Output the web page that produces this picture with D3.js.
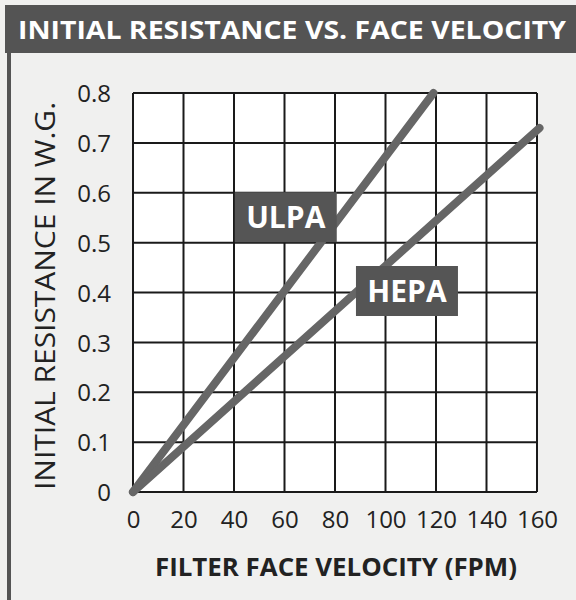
<!DOCTYPE html>
<html lang="en">
<head>
  <meta charset="UTF-8">
  <title>Initial Resistance vs. Face Velocity</title>
  <script src="https://cdn.jsdelivr.net/npm/d3@7.6.1/dist/d3.min.js"></script>
  <style>
    body { margin: 0; background: #fff; }
    svg { display: block; }
    text { font-family: "Open Sans", "Noto Sans", sans-serif; }
  </style>
</head>
<body>
  <div id="chart"></div>
  <script>
    const width = 576
    const height = 600
    const margin = { left: 133, right: 39, top: 93, bottom: 108 }

    // data
    const xTicks = [0, 20, 40, 60, 80, 100, 120, 140, 160]
    const yTicks = [0, 0.1, 0.2, 0.3, 0.4, 0.5, 0.6, 0.7, 0.8]
    const ulpa = [[0, 0], [119, 0.8]]
    const hepa = [[0, 0], [161, 0.73]]
    const labels = ['ULPA', 'HEPA']
    const labelPos = [[60.5, 0.551], [108.5, 0.403]]

    const x = d3.scaleLinear().domain([0, 160]).range([margin.left, width - margin.right])
    const y = d3.scaleLinear().domain([0, 0.8]).range([height - margin.bottom, margin.top])

    const svg = d3.select('#chart').append('svg')
      .attr('width', width)
      .attr('height', height)

    // background + frame
    svg.append('rect').attr('x', 0).attr('y', 0).attr('width', width).attr('height', height).attr('fill', '#f0f0ef')
    svg.append('rect').attr('x', 5).attr('y', 5).attr('width', width - 5).attr('height', 48).attr('fill', '#545454')
    svg.append('rect').attr('x', 7).attr('y', 5).attr('width', 4).attr('height', height - 5).attr('fill', '#545454')

    svg.append('text')
      .attr('x', 18).attr('y', 39)
      .attr('fill', '#fff')
      .attr('font-size', 25).attr('font-weight', 700)
      .attr('textLength', 548).attr('lengthAdjust', 'spacingAndGlyphs')
      .text('INITIAL RESISTANCE VS. FACE VELOCITY')

    // plot area
    svg.append('rect')
      .attr('x', x(0)).attr('y', y(0.8))
      .attr('width', x(160) - x(0)).attr('height', y(0) - y(0.8))
      .attr('fill', '#fff')

    // grid
    svg.append('g').selectAll('line').data(xTicks)
      .enter().append('line')
      .attr('x1', d => x(d)).attr('x2', d => x(d))
      .attr('y1', y(0)).attr('y2', y(0.8))
      .attr('stroke', '#1a1a1a').attr('stroke-width', 2)

    svg.append('g').selectAll('line').data(yTicks)
      .enter().append('line')
      .attr('x1', x(0)).attr('x2', x(160))
      .attr('y1', d => y(d)).attr('y2', d => y(d))
      .attr('stroke', '#1a1a1a').attr('stroke-width', 2)

    // axes (labels only)
    const xAxis = svg.append('g')
      .attr('transform', `translate(0,${y(0) + 14})`)
      .call(d3.axisBottom(x).tickValues(xTicks).tickSize(0).tickFormat(d3.format('d')))
    const yAxis = svg.append('g')
      .attr('transform', `translate(${x(0) - 19},0)`)
      .call(d3.axisLeft(y).tickValues(yTicks).tickSize(0).tickFormat(d => d === 0 ? '0' : d3.format('.1f')(d)))
    ;[xAxis, yAxis].forEach(a => {
      a.select('.domain').remove()
      a.selectAll('text')
        .attr('font-family', '"Open Sans", "Noto Sans", sans-serif')
        .attr('font-size', 24).attr('fill', '#222')
    })
    xAxis.selectAll('text').attr('dy', '0.8em')
    yAxis.selectAll('text').attr('dy', '0.36em')

    // lines
    const line = d3.line().x(d => x(d[0])).y(d => y(d[1]))
    svg.append('g').selectAll('path').data([ulpa, hepa])
      .enter().append('path')
      .attr('d', line)
      .attr('fill', 'none')
      .attr('stroke', '#666')
      .attr('stroke-width', 8)
      .attr('stroke-linecap', 'round')

    // labels
    const lab = svg.append('g').selectAll('g').data(labels)
      .enter().append('g')
      .attr('transform', (d, i) => `translate(${x(labelPos[i][0])},${y(labelPos[i][1])})`)
    lab.append('rect')
      .attr('x', -51).attr('y', -25).attr('width', 102).attr('height', 50)
      .attr('fill', '#555')
    lab.append('text')
      .attr('text-anchor', 'middle').attr('dy', '0.36em')
      .attr('fill', '#fff').attr('font-size', 30).attr('font-weight', 700)
      .text(d => d)

    // axis titles
    svg.append('text')
      .attr('transform', 'translate(55,296) rotate(-90)')
      .attr('text-anchor', 'middle')
      .attr('fill', '#222').attr('font-size', 28)
      .attr('textLength', 388).attr('lengthAdjust', 'spacingAndGlyphs')
      .text('INITIAL RESISTANCE IN W.G.')

    svg.append('text')
      .attr('x', 336).attr('y', 576)
      .attr('text-anchor', 'middle')
      .attr('fill', '#222').attr('font-size', 25).attr('font-weight', 700)
      .attr('textLength', 362).attr('lengthAdjust', 'spacingAndGlyphs')
      .text('FILTER FACE VELOCITY (FPM)')
  </script>
</body>
</html>
